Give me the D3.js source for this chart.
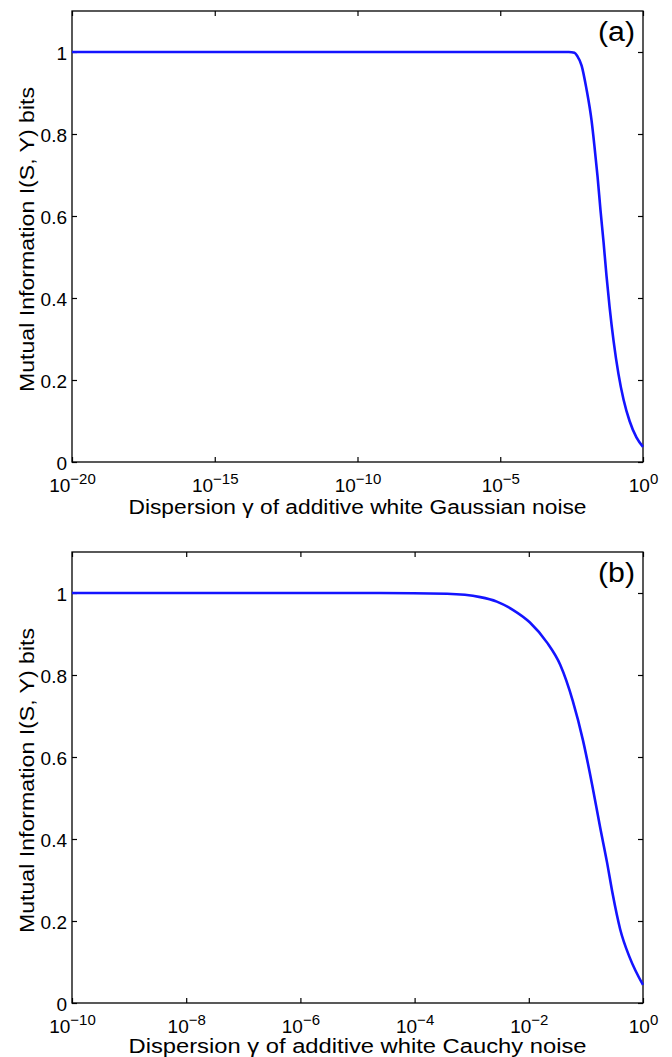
<!DOCTYPE html>
<html>
<head>
<meta charset="utf-8">
<script src="https://cdn.jsdelivr.net/npm/d3@7"></script>
<style>
  body { margin: 0; background: #fff; }
  text { font-family: "Liberation Sans", Arial, Helvetica, sans-serif; fill: #000; }
</style>
</head>
<body>
<div id="chart"></div>
<script>
// panel (a): Gaussian noise, x given as log10(dispersion)
const expA = [-20, -5, -2.6, -2.4, -2.3, -2.15, -1.98, -1.8, -1.7, -1.59, -1.49, -1.38, -1.28, -1.17, -1.03, -0.86, -0.68, -0.47, -0.23, 0];
const miA  = [1, 1, 1, 0.998, 0.99, 0.967, 0.91, 0.832, 0.77, 0.695, 0.615, 0.535, 0.455, 0.378, 0.295, 0.215, 0.152, 0.100, 0.060, 0.037];
const ticksA = [-20, -15, -10, -5, 0];

// panel (b): Cauchy noise
const expB = [-10, -6, -4.61, -3.43, -2.85, -2.56, -2.28, -1.98, -1.68, -1.45, -1.23, -1.05, -0.89, -0.75, -0.63, -0.53, -0.40, -0.23, 0];
const miB  = [1, 1, 1, 0.998, 0.99, 0.979, 0.959, 0.928, 0.879, 0.825, 0.737, 0.640, 0.532, 0.428, 0.343, 0.265, 0.180, 0.110, 0.044];
const ticksB = [-10, -8, -6, -4, -2, 0];

const yTicks = [0, 0.2, 0.4, 0.6, 0.8, 1];

const W = 672, H = 1057;
const left = 72, right = 643;

const svg = d3.select("#chart").append("svg")
    .attr("width", W)
    .attr("height", H);

function drawPanel(top, bottom, exps, vals, ticks, tag, xlabel, xlabelOffset) {
    const x = d3.scaleLog()
        .domain([Math.pow(10, ticks[0]), 1])
        .range([left, right]);
    const y = d3.scaleLinear()
        .domain([0, 1.1])
        .range([bottom, top]);

    const g = svg.append("g");
    const tickVals = ticks.map(e => Math.pow(10, e));

    // bottom axis with superscript labels
    const xb = g.append("g")
        .attr("transform", `translate(0,${bottom})`)
        .call(d3.axisBottom(x).tickValues(tickVals).tickSizeInner(-5).tickSizeOuter(0).tickPadding(16.5));
    xb.selectAll("text").each(function(d, i) {
        const t = d3.select(this).text(null).style("font-size", "19px");
        t.append("tspan").text("10");
        t.append("tspan")
            .attr("dy", "-0.55em")
            .style("font-size", "15px")
            .text(ticks[i] === 0 ? "0" : "\u2212" + Math.abs(ticks[i]));
    });

    // top mirror ticks
    g.append("g")
        .attr("transform", `translate(0,${top})`)
        .call(d3.axisTop(x).tickValues(tickVals).tickSizeInner(-5).tickSizeOuter(0).tickFormat(""));

    // left axis
    g.append("g")
        .attr("transform", `translate(${left},0)`)
        .call(d3.axisLeft(y).tickValues(yTicks).tickSizeInner(-5).tickSizeOuter(0).tickPadding(5)
            .tickFormat(d => d === 0 || d === 1 ? d3.format("d")(d) : d3.format(".1f")(d)))
        .selectAll("text")
        .attr("dy", "0.42em")
        .style("font-size", "19px");

    // right mirror ticks
    g.append("g")
        .attr("transform", `translate(${right},0)`)
        .call(d3.axisRight(y).tickValues(yTicks).tickSizeInner(-5).tickSizeOuter(0).tickFormat(""));

    g.selectAll(".domain").remove();
    g.selectAll(".tick line").attr("stroke", "#000").attr("stroke-width", 1.2);

    // frame
    g.append("rect")
        .attr("x", left)
        .attr("y", top)
        .attr("width", right - left)
        .attr("height", bottom - top)
        .attr("fill", "none")
        .attr("stroke", "#000")
        .attr("stroke-width", 1.3);

    // curve
    const pts = exps.map((e, i) => [Math.pow(10, e), vals[i]]);
    const line = d3.line()
        .x(d => x(d[0]))
        .y(d => y(d[1]))
        .curve(d3.curveMonotoneX);
    g.append("path")
        .datum(pts)
        .attr("d", line)
        .attr("fill", "none")
        .attr("stroke", "#1414ff")
        .attr("stroke-width", 2.6);

    // panel tag
    g.append("text")
        .attr("x", right - 8)
        .attr("y", top + 30)
        .attr("text-anchor", "end")
        .attr("textLength", 37)
        .attr("lengthAdjust", "spacingAndGlyphs")
        .style("font-size", "27px")
        .text(tag);

    // axis labels
    g.append("text")
        .attr("x", (left + right) / 2)
        .attr("y", bottom + xlabelOffset)
        .attr("text-anchor", "middle")
        .attr("textLength", 458)
        .attr("lengthAdjust", "spacingAndGlyphs")
        .style("font-size", "20px")
        .text(xlabel);

    g.append("text")
        .attr("transform", `translate(34,${(top + bottom) / 2 + 3}) rotate(-90)`)
        .attr("text-anchor", "middle")
        .attr("textLength", 305)
        .attr("lengthAdjust", "spacingAndGlyphs")
        .style("font-size", "21px")
        .text("Mutual Information I(S, Y) bits");
}

drawPanel(11, 462, expA, miA, ticksA, "(a)", "Dispersion \u03b3 of additive white Gaussian noise", 52);
drawPanel(552, 1003, expB, miB, ticksB, "(b)", "Dispersion \u03b3 of additive white Cauchy noise", 50);
</script>
</body>
</html>
